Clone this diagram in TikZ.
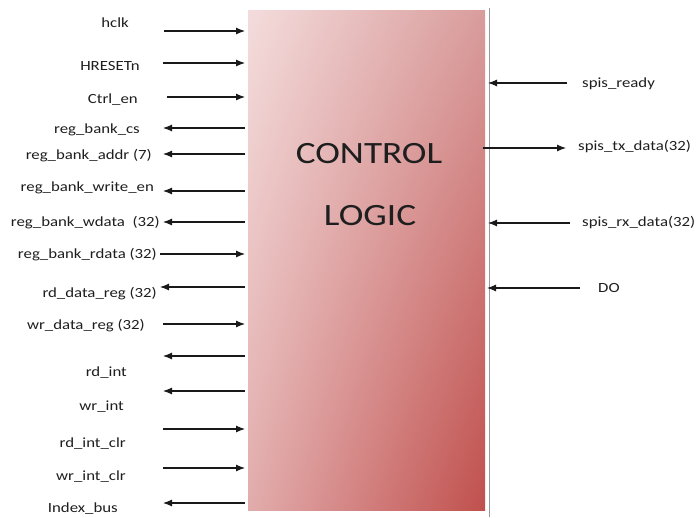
\documentclass[tikz,border=0pt]{standalone}
\usepackage{fontspec}
\setmainfont{Carlito}[FakeStretch=1.2]
\usetikzlibrary{arrows.meta,shadings}

\definecolor{boxUL}{HTML}{F4DCDC}
\definecolor{boxUR}{HTML}{D99C9C}
\definecolor{boxLL}{HTML}{E2ACAC}
\definecolor{boxLR}{HTML}{C0504D}
\definecolor{inktext}{HTML}{1E1E1E}

\tikzset{
  ctrlbox/.style={rectangle, shade, inner sep=0pt,
    minimum width=237pt, minimum height=500pt,
    upper left=boxUL, upper right=boxUR,
    lower left=boxLL, lower right=boxLR},
  sig/.style={font=\fontsize{14}{16}\selectfont, text=inktext, inner sep=0pt, yshift=-2.5pt},
  title/.style={font=\fontsize{31}{34}\selectfont, text=inktext, inner sep=0pt},
  wire/.style={line width=1.1pt, draw=black!90,
    -{Latex[length=9pt,width=7pt]}},
}

\begin{document}
\begin{tikzpicture}[x=1pt,y=-1pt]
\useasboundingbox (0,0) rectangle (700,517);

% the control block and its right-hand frame line
\node[ctrlbox] (ctrl) at (366.5,260) {};
\coordinate (frameT) at (489,8);
\coordinate (frameB) at (489,517);
\draw[gray!80, line width=1pt] (frameT) -- (frameB);

\node[title, anchor=base] (t1) at (369,163) {CONTROL};
\node[title, anchor=base] (t2) at (370,225) {LOGIC};

% left-hand signals: name / text / label x / label y / wire y / direction (1 = in, 0 = out) / outer x
\foreach \nm/\txt/\lx/\ly/\wy/\dir/\ox in {
  hclk/hclk/129/23/31/1/164,
  hreset/HRESETn/140/66/63/1/163,
  ctrlen/Ctrl\_en/138/99/97/1/167,
  rbcs/reg\_bank\_cs/140/129/128/0/163,
  rbaddr/reg\_bank\_addr (7)/152/155/154/0/163,
  rbwen/reg\_bank\_write\_en/154/187/191/0/163,
  rbwd/reg\_bank\_wdata\ \ (32)/160/222/222/0/163,
  rbrd/reg\_bank\_rdata (32)/157/254/254/1/160,
  rdreg/rd\_data\_reg (32)/157/293/287/0/160,
  wrreg/wr\_data\_reg (32)/145/325/324/1/163,
  rdint/rd\_int/127/372/356/0/163,
  wrint/wr\_int/124/406/391/0/163,
  rdclr/rd\_int\_clr/126/443/429/1/163,
  wrclr/wr\_int\_clr/126/476/468/1/163,
  idx/Index\_bus/118/508/503/0/163}
{
  \node[sig, anchor=mid east] (\nm) at (\lx,\ly) {\txt};
  \coordinate (\nm-o) at (\ox,\wy);
  \coordinate (\nm-i) at (245,\wy);
  \ifnum\dir=1
    \draw[wire] (\nm-o) -- (\nm-i);
  \else
    \draw[wire] (\nm-i) -- (\nm-o);
  \fi
}

% right-hand signals: name / text / label x / label y / wire y / direction / outer x / inner x
\foreach \nm/\txt/\lx/\ly/\wy/\dir/\ox/\ix in {
  ready/spis\_ready/582/83/83/1/567/488,
  tx/spis\_tx\_data(32)/578/146/148/0/566/483,
  rx/spis\_rx\_data(32)/582/222/223/1/570/488,
  do/DO/598/288/288/1/580/487}
{
  \node[sig, anchor=mid west] (\nm) at (\lx,\ly) {\txt};
  \coordinate (\nm-o) at (\ox,\wy);
  \coordinate (\nm-i) at (\ix,\wy);
  \ifnum\dir=1
    \draw[wire] (\nm-o) -- (\nm-i);
  \else
    \draw[wire] (\nm-i) -- (\nm-o);
  \fi
}
\end{tikzpicture}
\end{document}
